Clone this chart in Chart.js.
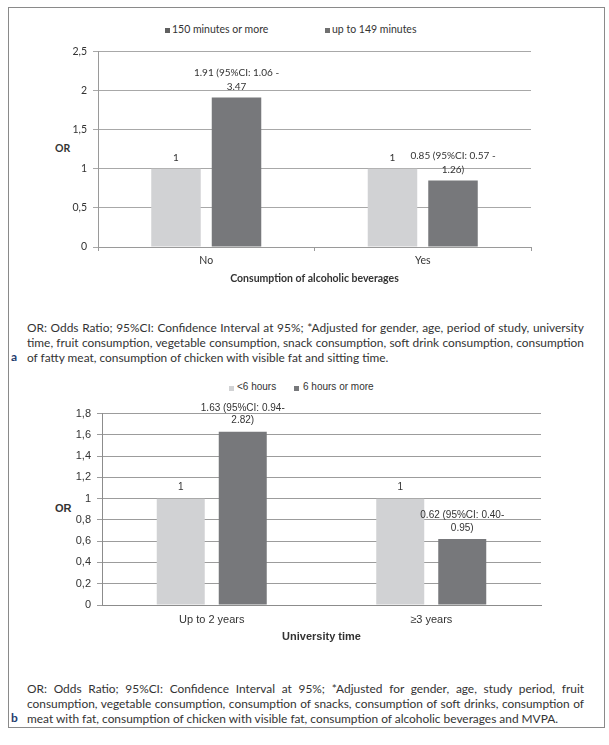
<!DOCTYPE html>
<html>
<head>
<meta charset="utf-8">
<script src="https://cdn.jsdelivr.net/npm/chart.js@4/dist/chart.umd.min.js"></script>
<style>
  html, body { margin:0; padding:0; background:#fff; }
  body { width:609px; height:745px; position:relative; overflow:hidden; }
  .frame { position:absolute; left:8px; top:7px; width:597px; height:721px; border:1px solid #8a8a8a; box-sizing:border-box; }
  canvas { position:absolute; }
  .abs { position:absolute; white-space:nowrap; }
  .legA { font-family:Lato, sans-serif; font-size:10.5px; color:#333; }
  .legB { font-family:"Liberation Sans", Arial, sans-serif; font-size:10px; color:#333; }
  .sq { position:absolute; width:5px; height:5px; }
  .orA { font-family:Lato, sans-serif; font-weight:bold; font-size:10.5px; color:#333; }
  .orB { font-family:"Liberation Sans", Arial, sans-serif; font-weight:bold; font-size:11px; color:#333; }
  .cap { position:absolute; left:27px; width:557px; font-family:Lato, sans-serif; font-size:11.9px; color:#333; white-space:nowrap; line-height:15px; }
  .cap div { height:15px; }
  .just { text-align:justify; text-align-last:justify; }
  .tag { position:absolute; font-family:Lato, sans-serif; font-weight:bold; font-size:12px; color:#1f3d6e; }
</style>
</head>
<body>
<div class="frame"></div>

<div class="sq" id="sqA1"></div><div class="abs legA" id="txA1"></div>
<div class="sq" id="sqA2"></div><div class="abs legA" id="txA2"></div>
<div class="abs orA" style="left:55px; top:142px;">OR</div>
<canvas id="chartA" width="590" height="256" style="left:10px; top:39px;"></canvas>

<div class="cap" style="top:320px;">
  <div class="just">OR: Odds Ratio; 95%CI: Confidence Interval at 95%; *Adjusted for gender, age, period of study, university</div>
  <div class="just">time, fruit consumption, vegetable consumption, snack consumption, soft drink consumption, consumption</div>
  <div>of fatty meat, consumption of chicken with visible fat and sitting time.</div>
</div>
<div class="tag" style="left:11px; top:349px;">a</div>

<div class="sq" id="sqB1"></div><div class="abs legB" id="txB1"></div>
<div class="sq" id="sqB2"></div><div class="abs legB" id="txB2"></div>
<div class="abs orB" style="left:55px; top:502px;">OR</div>
<canvas id="chartB" width="590" height="256" style="left:10px; top:401px;"></canvas>

<div class="cap" style="top:681px;">
  <div class="just">OR: Odds Ratio; 95%CI: Confidence Interval at 95%; *Adjusted for gender, age, study period, fruit</div>
  <div class="just">consumption, vegetable consumption, consumption of snacks, consumption of soft drinks, consumption of</div>
  <div>meat with fat, consumption of chicken with visible fat, consumption of alcoholic beverages and MVPA.</div>
</div>
<div class="tag" style="left:11px; top:710px;">b</div>

<script>
// ---------- Data: panel a ----------
const categoriesA = ["No", "Yes"];
const seriesNamesA = ["150 minutes or more", "up to 149 minutes"];
const valuesA1 = [1, 1];
const valuesA2 = [1.91, 0.85];
const labelsA1 = [["1"], ["1"]];
const labelsA2 = [["1.91 (95%CI: 1.06 -", "3.47"], ["0.85 (95%CI: 0.57 -", "1.26)"]];
const yTicksA = ["0", "0,5", "1", "1,5", "2", "2,5"];
const xTitleA = "Consumption of alcoholic beverages";

// ---------- Data: panel b ----------
const categoriesB = ["Up to 2 years", "≥3 years"];
const seriesNamesB = ["<6 hours", "6 hours or more"];
const valuesB1 = [1, 1];
const valuesB2 = [1.63, 0.62];
const labelsB1 = [["1"], ["1"]];
const labelsB2 = [["1.63 (95%CI: 0.94-", "2.82)"], ["0.62 (95%CI: 0.40-", "0.95)"]];
const yTicksB = ["0", "0,2", "0,4", "0,6", "0,8", "1", "1,2", "1,4", "1,6", "1,8"];
const xTitleB = "University time";

const LIGHT = "#d1d2d4";
const DARK = "#77787b";

// HTML legends
function legend(sqId, txId, text, color, sqX, txX, y) {
  const s = document.getElementById(sqId);
  s.style.left = sqX + "px"; s.style.top = (y - 2.5) + "px"; s.style.background = color;
  const t = document.getElementById(txId);
  t.textContent = text; t.style.left = txX + "px"; t.style.top = (y - 7) + "px";
}
legend("sqA1", "txA1", seriesNamesA[0], "#606060", 165, 172, 30);
legend("sqA2", "txA2", seriesNamesA[1], "#707070", 325, 332, 30);
legend("sqB1", "txB1", seriesNamesB[0], LIGHT, 229, 237, 388);
legend("sqB2", "txB2", seriesNamesB[1], DARK, 294, 303, 388);

// Data-label plugin (multi-line text above bars)
const barLabels = {
  id: "barLabels",
  afterDatasetsDraw(chart, args, opts) {
    const ctx = chart.ctx;
    ctx.save();
    ctx.font = opts.font;
    ctx.fillStyle = opts.color;
    ctx.textAlign = "center";
    ctx.textBaseline = "middle";
    chart.data.datasets.forEach((ds, di) => {
      const meta = chart.getDatasetMeta(di);
      meta.data.forEach((el, i) => {
        const lines = ds.valueLabels[i];
        const n = lines.length;
        lines.forEach((ln, k) => {
          const y = el.y - opts.gap - (n - 1 - k) * opts.lineH;
          ctx.fillText(ln, el.x, y);
        });
      });
    });
    ctx.restore();
  }
};

function makeChart(id, cfg) {
  return new Chart(document.getElementById(id), {
    type: "bar",
    data: {
      labels: cfg.categories,
      datasets: [
        { label: cfg.names[0], data: cfg.v1, valueLabels: cfg.l1, backgroundColor: LIGHT,
          categoryPercentage: cfg.catPct, barPercentage: cfg.barPct },
        { label: cfg.names[1], data: cfg.v2, valueLabels: cfg.l2, backgroundColor: DARK,
          categoryPercentage: cfg.catPct, barPercentage: cfg.barPct }
      ]
    },
    options: {
      responsive: false,
      animation: false,
      devicePixelRatio: 1,
      layout: { padding: { top: 0, right: cfg.padRight, left: 0, bottom: 0 } },
      plugins: {
        legend: { display: false },
        tooltip: { enabled: false },
        barLabels: cfg.labelOpts
      },
      scales: {
        x: {
          afterFit: s => { s.height = cfg.xHeight; },
          grid: { drawOnChartArea: false, drawTicks: cfg.xTicks, tickLength: 4, color: cfg.axisColor, offset: true },
          border: { color: cfg.axisColor },
          ticks: { font: cfg.tickFont, color: "#333", padding: cfg.xTickPad, maxRotation: 0 },
          title: { display: true, text: cfg.xTitle, font: cfg.titleFont, color: "#333",
                   padding: { top: 0, bottom: cfg.titlePad } }
        },
        y: {
          min: 0, max: cfg.max,
          afterFit: s => { s.width = cfg.yWidth; },
          grid: { color: cfg.gridColor, tickLength: 5, drawTicks: true },
          border: { color: cfg.axisColor },
          ticks: { stepSize: cfg.step, font: cfg.tickFont, color: "#333", padding: 6,
                   callback: (v, i) => cfg.yTicks[i] }
        }
      }
    },
    plugins: [barLabels]
  });
}

makeChart("chartA", {
  categories: categoriesA, names: seriesNamesA,
  v1: valuesA1, v2: valuesA2, l1: labelsA1, l2: labelsA2,
  catPct: 0.559, barPct: 0.818, padRight: 69,
  xHeight: 48, yWidth: 88, xTicks: true, xTickPad: 3, titlePad: 10,
  max: 2.5, step: 0.5, yTicks: yTicksA, xTitle: xTitleA,
  axisColor: "#9a9a9a", gridColor: "#a8a8a8",
  tickFont: { family: "Lato", size: 10.5 },
  titleFont: { family: "Lato", size: 10.5, weight: "bold" },
  labelOpts: { font: "10px Lato", color: "#333", gap: 11, lineH: 14 }
});

makeChart("chartB", {
  categories: categoriesB, names: seriesNamesB,
  v1: valuesB1, v2: valuesB2, l1: labelsB1, l2: labelsB2,
  catPct: 0.565, barPct: 0.774, padRight: 59,
  xHeight: 52, yWidth: 92, xTicks: false, xTickPad: 8, titlePad: 13,
  max: 1.8, step: 0.2, yTicks: yTicksB, xTitle: xTitleB,
  axisColor: "#8c8c8c", gridColor: "#9c9c9c",
  tickFont: { family: "Liberation Sans", size: 11 },
  titleFont: { family: "Liberation Sans", size: 11, weight: "bold" },
  labelOpts: { font: "10px 'Liberation Sans'", color: "#333", gap: 11, lineH: 12.5 }
});
</script>
</body>
</html>
